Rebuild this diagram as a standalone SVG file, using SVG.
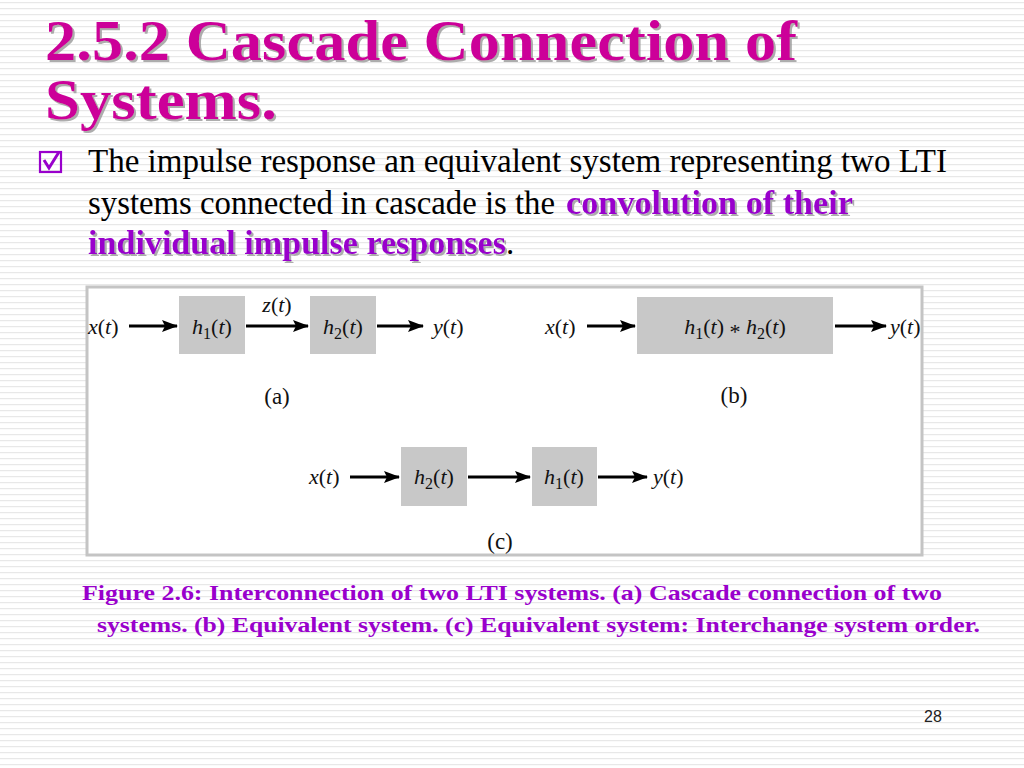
<svg xmlns="http://www.w3.org/2000/svg" width="1024" height="768" viewBox="0 0 1024 768">
<defs>
<pattern id="stripes" x="0" y="0" width="8" height="6" patternUnits="userSpaceOnUse">
<rect x="0" y="0" width="8" height="6" fill="#ffffff"/>
<rect x="0" y="2" width="8" height="1.2" fill="#e8e8e8"/>
</pattern>
<marker id="arr" markerUnits="userSpaceOnUse" markerWidth="18" markerHeight="14" refX="15" refY="7" orient="auto">
<path d="M0,1 L16,7 L0,13 L3,7 z" fill="#000"/>
</marker>
<filter id="shadow" x="-5%" y="-5%" width="110%" height="120%">
<feDropShadow dx="2" dy="2" stdDeviation="0.6" flood-color="#999999" flood-opacity="0.8"/>
</filter>
</defs>
<style>
.box{fill:#c8c8c8}
.conn line{stroke:#000;stroke-width:3;marker-end:url(#arr)}
</style>
<rect width="1024" height="768" fill="url(#stripes)"/>

<g id="title" filter="url(#shadow)" fill="#cc0099">
<text font-family="Liberation Serif" font-weight="bold" font-size="58" x="45" y="60" textLength="752" lengthAdjust="spacingAndGlyphs">2.5.2 Cascade Connection of</text>
<text font-family="Liberation Serif" font-weight="bold" font-size="58" x="45" y="119" textLength="232" lengthAdjust="spacingAndGlyphs">Systems.</text>
</g>

<g id="bullet">
<rect x="40" y="152" width="21" height="20" fill="none" stroke="#9900cc" stroke-width="2.2"/>
<path d="M44,160 L49,168 L59,152" fill="none" stroke="#9900cc" stroke-width="3"/>
<text font-family="Liberation Serif" font-size="33" fill="#000" x="88" y="172" textLength="859" lengthAdjust="spacingAndGlyphs">The impulse response an equivalent system representing two LTI</text>
<text font-family="Liberation Serif" font-size="33" fill="#000" x="88" y="214" textLength="467" lengthAdjust="spacingAndGlyphs">systems connected in cascade is the</text>
<text font-family="Liberation Serif" font-size="33" font-weight="bold" fill="#9900cc" x="566" y="214" textLength="287" lengthAdjust="spacingAndGlyphs" filter="url(#shadow)">convolution of their</text>
<text font-family="Liberation Serif" font-size="33" font-weight="bold" fill="#9900cc" x="88" y="254" textLength="418" lengthAdjust="spacingAndGlyphs" filter="url(#shadow)">individual impulse responses</text>
<text font-family="Liberation Serif" font-size="33" fill="#000" x="506" y="254">.</text>
</g>

<rect id="frame" x="87" y="287" width="835" height="268" fill="#ffffff" stroke="#c4c4c4" stroke-width="3"/>

<g id="nodes-a" fill="#111">
<g id="a-h1"><rect class="box" x="179" y="296" width="66" height="58"/>
<text font-family="Liberation Serif" font-size="22" x="212" y="334" text-anchor="middle"><tspan font-style="italic">h</tspan><tspan font-size="16" dy="5">1</tspan><tspan dy="-5">(</tspan><tspan font-style="italic">t</tspan>)</text></g>
<g id="a-h2"><rect class="box" x="310" y="296" width="66" height="58"/>
<text font-family="Liberation Serif" font-size="22" x="343" y="334" text-anchor="middle"><tspan font-style="italic">h</tspan><tspan font-size="16" dy="5">2</tspan><tspan dy="-5">(</tspan><tspan font-style="italic">t</tspan>)</text></g>
<text font-family="Liberation Serif" font-size="22" x="88" y="334"><tspan font-style="italic">x</tspan>(<tspan font-style="italic">t</tspan>)</text>
<text font-family="Liberation Serif" font-size="22" x="277" y="312" text-anchor="middle"><tspan font-style="italic">z</tspan>(<tspan font-style="italic">t</tspan>)</text>
<text font-family="Liberation Serif" font-size="22" x="433" y="334"><tspan font-style="italic">y</tspan>(<tspan font-style="italic">t</tspan>)</text>
<text font-family="Liberation Serif" font-size="23" x="277" y="404" text-anchor="middle">(a)</text>
</g>

<g id="nodes-b" fill="#111">
<g id="b-h"><rect class="box" x="637" y="297" width="196" height="57"/>
<text font-family="Liberation Serif" font-size="22" x="735" y="334" text-anchor="middle"><tspan font-style="italic">h</tspan><tspan font-size="16" dy="5">1</tspan><tspan dy="-5">(</tspan><tspan font-style="italic">t</tspan>) <tspan dy="5">*</tspan><tspan dy="-5"> </tspan><tspan font-style="italic">h</tspan><tspan font-size="16" dy="5">2</tspan><tspan dy="-5">(</tspan><tspan font-style="italic">t</tspan>)</text></g>
<text font-family="Liberation Serif" font-size="22" x="545" y="334"><tspan font-style="italic">x</tspan>(<tspan font-style="italic">t</tspan>)</text>
<text font-family="Liberation Serif" font-size="22" x="890" y="334"><tspan font-style="italic">y</tspan>(<tspan font-style="italic">t</tspan>)</text>
<text font-family="Liberation Serif" font-size="23" x="734" y="403" text-anchor="middle">(b)</text>
</g>

<g id="nodes-c" fill="#111">
<g id="c-h2"><rect class="box" x="401" y="447" width="66" height="59"/>
<text font-family="Liberation Serif" font-size="22" x="434" y="484" text-anchor="middle"><tspan font-style="italic">h</tspan><tspan font-size="16" dy="5">2</tspan><tspan dy="-5">(</tspan><tspan font-style="italic">t</tspan>)</text></g>
<g id="c-h1"><rect class="box" x="532" y="447" width="65" height="59"/>
<text font-family="Liberation Serif" font-size="22" x="564" y="484" text-anchor="middle"><tspan font-style="italic">h</tspan><tspan font-size="16" dy="5">1</tspan><tspan dy="-5">(</tspan><tspan font-style="italic">t</tspan>)</text></g>
<text font-family="Liberation Serif" font-size="22" x="309" y="484"><tspan font-style="italic">x</tspan>(<tspan font-style="italic">t</tspan>)</text>
<text font-family="Liberation Serif" font-size="22" x="653" y="484"><tspan font-style="italic">y</tspan>(<tspan font-style="italic">t</tspan>)</text>
<text font-family="Liberation Serif" font-size="23" x="500" y="549" text-anchor="middle">(c)</text>
</g>

<g id="connectors" class="conn">
<line x1="129" y1="326" x2="177" y2="326"/>
<line x1="246" y1="326" x2="308" y2="326"/>
<line x1="377" y1="326" x2="423" y2="326"/>
<line x1="587" y1="326" x2="635" y2="326"/>
<line x1="835" y1="326" x2="886" y2="326"/>
<line x1="350" y1="477" x2="399" y2="477"/>
<line x1="468" y1="477" x2="530" y2="477"/>
<line x1="598" y1="477" x2="647" y2="477"/>
</g>

<g id="caption" fill="#9900cc">
<text font-family="Liberation Serif" font-weight="bold" font-size="21" x="82" y="600" textLength="860" lengthAdjust="spacingAndGlyphs">Figure 2.6: Interconnection of two LTI systems. (a) Cascade connection of two</text>
<text font-family="Liberation Serif" font-weight="bold" font-size="21" x="97" y="632" textLength="883" lengthAdjust="spacingAndGlyphs">systems. (b) Equivalent system. (c) Equivalent system: Interchange system order.</text>
</g>

<text id="pagenum" x="933" y="722" text-anchor="middle" font-family="Liberation Sans" font-size="16" fill="#222">28</text>
</svg>
